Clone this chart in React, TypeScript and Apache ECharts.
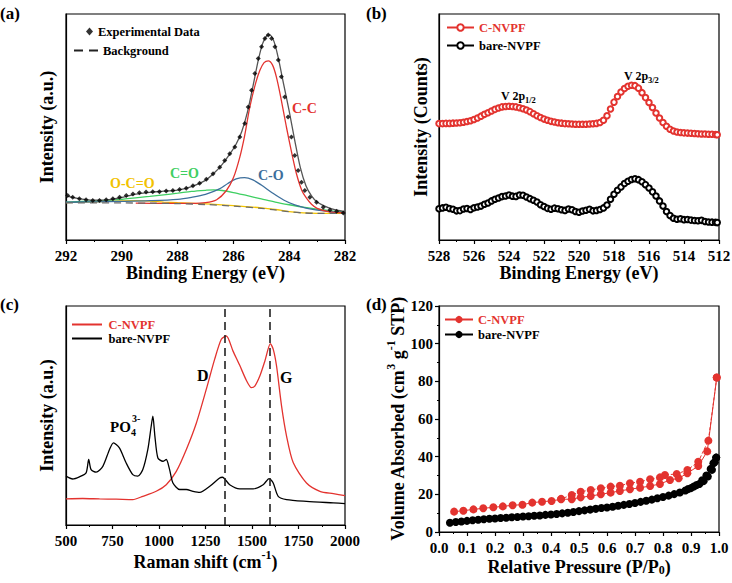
import React, { useEffect, useRef } from 'react';
import * as echarts from 'echarts';

const FONT = 'Liberation Serif, Times New Roman, serif';
const RED = '#e3332f';
const BLUE = '#3d6f9c';
const GREEN = '#3fcf62';
const YELLOW = '#f2c200';

// ---------- (a) XPS C 1s ----------
const expData: number[][] = [
  [291.94, 19.7], [291.76, 18.9], [291.52, 18.2], [291.28, 17.8], [291.04, 17.5], [290.8, 17.5], [290.56, 17.8],
  [290.32, 18.2], [290.08, 18.9], [289.84, 19.7], [289.6, 20.4], [289.37, 20.9], [289.13, 21.2], [288.89, 21.3],
  [288.65, 21.4], [288.41, 21.7], [288.17, 21.9], [287.93, 22.3], [287.69, 22.9], [287.45, 24.0], [287.21, 25.1],
  [286.97, 26.9], [286.73, 29.3], [286.49, 32.2], [286.31, 35.2], [286.13, 38.2], [285.95, 41.1], [285.77, 45.6],
  [285.59, 51.5], [285.47, 58.9], [285.35, 66.3], [285.23, 73.7], [285.11, 80.3], [284.99, 85.5], [284.87, 89.2],
  [284.75, 90.7], [284.63, 89.2], [284.51, 85.5], [284.39, 79.6], [284.28, 72.2], [284.16, 63.3], [284.04, 54.4],
  [283.92, 45.6], [283.8, 37.4], [283.68, 30.8], [283.56, 25.6], [283.44, 21.9], [283.26, 18.9], [283.02, 16.7],
  [282.78, 14.5], [282.54, 13.3], [282.3, 12.7], [282.06, 12.0],
];
const envelopeData: number[][] = [
  [292, 19.5], [291.5, 18.2], [291, 17.6], [290.5, 17.8], [290, 18.8], [289.5, 20.3], [289, 21.1], [288.5, 21.6],
  [288, 22.1], [287.5, 23.6], [287, 26.4], [286.7, 29.5], [286.4, 33.5], [286.1, 38.5], [285.9, 42.5], [285.7, 48],
  [285.5, 56.5], [285.3, 68], [285.1, 80], [284.95, 87], [284.8, 90.5], [284.7, 90.8], [284.55, 88], [284.4, 81],
  [284.2, 69], [284.0, 57], [283.8, 44], [283.6, 32], [283.4, 24], [283.2, 19.5], [283.0, 16.8], [282.6, 14.3],
  [282.3, 13.2], [282, 12.6],
];
const ccData: number[][] = [
  [289.5, 16.3], [288.5, 16.2], [287.5, 16.2], [287, 16.5], [286.6, 17.8], [286.25, 21.9], [286, 27.5], [285.77, 36.7],
  [285.6, 46], [285.41, 58.9], [285.2, 69.5], [285.05, 75.1], [284.9, 78.5], [284.75, 79.3], [284.6, 77.5],
  [284.46, 72.2], [284.3, 63], [284.1, 50], [283.9, 38], [283.74, 29.3], [283.55, 22], [283.38, 18.5], [283.2, 15.8],
  [283, 14], [282.6, 12.6], [282, 12.0],
];
const coData: number[][] = [
  [292, 16.7], [291, 16.9], [290, 17.1], [289, 17.4], [288, 18.0], [287.5, 18.9], [287, 20.2], [286.5, 22.6],
  [286.2, 25], [285.9, 27], [285.6, 27.6], [285.3, 26.6], [285, 24.3], [284.6, 20.8], [284.2, 17.7], [283.8, 15.5],
  [283.4, 14.1], [283, 13.2], [282.5, 12.5], [282, 12.1],
];
const cdoData: number[][] = [
  [292, 16.7], [291, 17.3], [290, 18.0], [289, 19.3], [288.5, 20.0], [288, 20.7], [287.5, 21.5], [287, 22.0],
  [286.7, 22.2], [286.4, 21.9], [286, 21.0], [285.5, 19.6], [285, 18.2], [284.5, 16.8], [284, 15.6], [283.5, 14.5],
  [283, 13.6], [282.5, 12.9], [282, 12.4],
];
const occoData: number[][] = [
  [292, 16.5], [291, 16.9], [290, 17.3], [289.5, 17.4], [289, 17.2], [288.5, 16.8], [288, 16.5], [287, 16.0],
  [286, 15.2], [285, 14.2], [284.5, 13.5], [284, 12.6], [283.5, 12.0], [283, 11.8], [282, 11.8],
];
const bgData: number[][] = [
  [292, 16.4], [290, 16.4], [289, 16.3], [288, 16.1], [287, 15.7], [286, 15.0], [285, 14.0], [284.5, 13.3],
  [284, 12.5], [283.5, 12.0], [283, 11.8], [282, 11.8],
];

// ---------- (b) XPS V 2p ----------
const vRedData: number[][] = [
  [528.0, 51.5], [527.8, 51.5], [527.6, 51.6], [527.4, 51.6], [527.2, 51.7], [527.0, 51.8], [526.8, 51.9],
  [526.6, 52.1], [526.4, 52.4], [526.2, 52.8], [526.0, 53.3], [525.8, 54.0], [525.6, 54.8], [525.4, 55.6],
  [525.2, 56.3], [525.0, 57.1], [524.8, 57.8], [524.6, 58.4], [524.4, 58.9], [524.2, 59.1], [524.0, 59.2],
  [523.8, 59.1], [523.6, 58.9], [523.4, 58.5], [523.2, 58.1], [523.0, 57.5], [522.8, 56.8], [522.6, 55.9],
  [522.4, 55.0], [522.2, 54.2], [522.0, 53.5], [521.8, 53.0], [521.6, 52.5], [521.4, 52.2], [521.2, 51.9],
  [521.0, 51.7], [520.8, 51.5], [520.6, 51.4], [520.4, 51.3], [520.2, 51.2], [520.0, 51.2], [519.8, 51.2],
  [519.6, 51.2], [519.4, 51.3], [519.2, 51.4], [519.0, 51.6], [518.8, 52.0], [518.6, 53.0], [518.4, 55.0],
  [518.2, 58.0], [518.0, 61.0], [517.8, 63.5], [517.6, 65.5], [517.4, 67.0], [517.2, 68.0], [517.0, 68.5],
  [516.8, 68.3], [516.6, 67.2], [516.4, 65.2], [516.2, 63.0], [516.0, 60.8], [515.8, 58.6], [515.6, 56.2],
  [515.4, 54.0], [515.2, 52.0], [515.0, 50.3], [514.8, 49.0], [514.6, 48.2], [514.4, 47.8], [514.2, 47.6],
  [514.0, 47.4], [513.8, 47.3], [513.6, 47.2], [513.4, 47.1], [513.2, 47.0], [513.0, 46.9], [512.8, 46.9],
  [512.6, 46.8], [512.4, 46.8], [512.2, 46.7], [512.1, 46.6],
];
const vBlackData: number[][] = [
  [528.0, 13.8], [527.8, 14.2], [527.6, 14.5], [527.4, 13.9], [527.2, 13.6], [527.0, 12.9], [526.8, 13.0],
  [526.6, 13.7], [526.4, 13.9], [526.2, 13.5], [526.0, 14.3], [525.8, 14.6], [525.6, 15.0], [525.4, 15.8],
  [525.2, 16.4], [525.0, 17.3], [524.8, 18.0], [524.6, 18.6], [524.4, 19.2], [524.2, 19.5], [524.0, 19.9],
  [523.8, 19.4], [523.6, 19.3], [523.4, 19.9], [523.2, 19.8], [523.0, 19.0], [522.8, 18.3], [522.6, 17.6],
  [522.4, 16.8], [522.2, 15.6], [522.0, 14.8], [521.8, 14.0], [521.6, 13.6], [521.4, 14.1], [521.2, 13.8],
  [521.0, 13.4], [520.8, 13.1], [520.6, 13.7], [520.4, 13.4], [520.2, 12.6], [520.0, 12.3], [519.8, 12.8],
  [519.6, 13.2], [519.4, 13.6], [519.2, 12.9], [519.0, 13.1], [518.8, 13.5], [518.6, 14.2], [518.4, 15.5],
  [518.2, 18.0], [518.0, 20.2], [517.8, 22.0], [517.6, 23.5], [517.4, 25.0], [517.2, 26.0], [517.0, 26.8],
  [516.8, 27.1], [516.6, 26.7], [516.4, 25.8], [516.2, 24.5], [516.0, 23.0], [515.8, 21.3], [515.6, 19.5],
  [515.4, 17.3], [515.2, 15.0], [515.0, 12.6], [514.8, 10.8], [514.6, 9.6], [514.4, 9.2], [514.2, 9.4],
  [514.0, 9.0], [513.8, 9.1], [513.6, 8.8], [513.4, 8.6], [513.2, 8.5], [513.0, 8.7], [512.8, 8.2],
  [512.6, 8.0], [512.4, 7.9], [512.2, 7.8], [512.1, 7.7],
];

// ---------- (c) Raman ----------
const ramanRed: number[][] = [
  [500, 11.9], [590, 12.1], [680, 11.9], [770, 11.8], [859, 11.6], [913, 13.1], [985, 15.4], [1039, 18.4],
  [1093, 24.5], [1147, 34.5], [1201, 46.6], [1254, 61.9], [1299, 75.6], [1335, 84.8], [1362, 86.3], [1398, 79.4],
  [1434, 72.9], [1470, 66.0], [1497, 62.7], [1515, 63.4], [1542, 68], [1569, 74.8], [1599, 82.8], [1615, 80],
  [1632, 72.6], [1659, 54.3], [1686, 40.5], [1722, 28.4], [1793, 19.2], [1865, 15.4], [1937, 14.3], [2000, 13.4],
];
const ramanBlack: number[][] = [
  [500, 22.3], [536, 21], [572, 22], [608, 23.8], [622, 29.9], [635, 25.3], [662, 24.1], [698, 26.8], [734, 34.5],
  [755, 37.5], [787, 35.2], [823, 28.4], [859, 23], [886, 22.3], [913, 25.3], [940, 34.5], [958, 45.1], [967, 49.7],
  [978, 40.5], [994, 30.6], [1021, 29.1], [1039, 29.9], [1057, 25.3], [1075, 19.2], [1111, 16.2], [1147, 16.2],
  [1183, 15.4], [1219, 14.9], [1273, 17.7], [1326, 21.5], [1341, 21.8], [1380, 18.4], [1434, 16.5], [1506, 16.5],
  [1560, 18.4], [1592, 21.2], [1614, 19.2], [1641, 13.1], [1686, 11.6], [1793, 10.8], [1937, 10.1], [2000, 9.8],
];
const ramanBands = [1355, 1597];

// ---------- (d) N2 isotherms ----------
const cAds: number[][] = [
  [0.054, 10.8], [0.087, 11.3], [0.123, 12.0], [0.158, 12.6], [0.194, 13.1], [0.228, 13.6], [0.263, 14.2],
  [0.298, 14.5], [0.333, 15.6], [0.368, 16.1], [0.402, 16.5], [0.436, 17.4], [0.474, 17.4], [0.506, 18.4],
  [0.542, 19.1], [0.578, 20.0], [0.613, 20.9], [0.646, 21.8], [0.682, 22.7], [0.718, 23.5], [0.754, 24.4],
  [0.789, 25.5], [0.825, 27.6], [0.856, 28.5], [0.887, 31.2], [0.926, 35.0], [0.958, 42.8], [0.992, 82],
];
const cDes: number[][] = [
  [0.992, 82], [0.962, 48.5], [0.926, 37.3], [0.887, 32.9], [0.849, 30.8], [0.807, 30.3], [0.789, 29.0],
  [0.754, 28.0], [0.718, 26.7], [0.682, 25.9], [0.646, 24.6], [0.613, 24.1], [0.578, 23.2], [0.542, 22.3],
  [0.506, 21.4], [0.474, 19.6], [0.436, 17.6],
];
const bAds: number[][] = [
  [0.039, 4.9], [0.06, 5.3], [0.08, 5.6], [0.1, 5.9], [0.12, 6.2], [0.14, 6.5], [0.16, 6.8], [0.18, 7.0],
  [0.2, 7.2], [0.22, 7.4], [0.24, 7.6], [0.26, 7.8], [0.28, 8.0], [0.3, 8.2], [0.32, 8.4], [0.34, 8.6],
  [0.36, 8.8], [0.38, 9.1], [0.4, 9.3], [0.42, 9.6], [0.44, 9.9], [0.46, 10.2], [0.48, 10.6], [0.5, 11.1],
  [0.52, 11.5], [0.54, 11.9], [0.56, 12.3], [0.58, 12.7], [0.6, 13.0], [0.62, 13.4], [0.64, 13.9], [0.66, 14.4],
  [0.68, 14.9], [0.7, 15.4], [0.72, 16.0], [0.74, 16.6], [0.76, 17.2], [0.78, 17.9], [0.8, 18.6], [0.82, 19.3],
  [0.84, 20.1], [0.86, 21.0], [0.88, 22.0], [0.9, 23.3], [0.92, 25.0], [0.94, 27.5], [0.955, 30.0],
  [0.97, 33.5], [0.98, 36.5], [0.99, 39.5],
];
const bDes: number[][] = [
  [0.99, 39.5], [0.985, 37], [0.975, 33], [0.96, 29.5], [0.945, 27], [0.93, 25.5], [0.91, 24.2], [0.89, 22.8],
];

const bold = (size: number, color = '#000') => ({ fontFamily: FONT, fontWeight: 'bold' as const, fontSize: size, color });

function xAxisCfg(gridIndex: number, min: number, max: number, interval: number, inverse: boolean, name: string, nameGap: number, rich?: any, fmt?: (v: number) => string) {
  return {
    type: 'value', gridIndex, min, max, interval, inverse,
    name, nameLocation: 'middle', nameGap,
    nameTextStyle: { ...bold(18), rich },
    axisLine: { show: true, onZero: false, lineStyle: { color: '#000', width: 1.2 } },
    axisTick: { show: true, length: 4, lineStyle: { color: '#000', width: 1.2 } },
    minorTick: { show: true, splitNumber: 2, length: 2, lineStyle: { color: '#000', width: 1 } },
    axisLabel: { ...bold(15), margin: 8, formatter: fmt || ((v: number) => String(v)) },
    splitLine: { show: false },
  };
}
function yAxisBlank(gridIndex: number, name: string, nameGap: number) {
  return {
    type: 'value', gridIndex, min: 0, max: 100,
    name, nameLocation: 'middle', nameGap,
    nameTextStyle: bold(18),
    axisLine: { show: true, lineStyle: { color: '#000', width: 1.2 } },
    axisTick: { show: false }, axisLabel: { show: false }, splitLine: { show: false },
  };
}

function legendCfg(name: string, left: number, top: number, w: number, h: number, color: string, icon?: string) {
  return {
    data: [icon ? { name, icon, textStyle: { color } } : { name, textStyle: { color } }],
    left, top, itemWidth: w, itemHeight: h, padding: 0,
    selectedMode: false, formatter: (n: string) => n.split('#')[0],
    textStyle: { ...bold(12.5, color) },
  };
}

const LINE_ICON = 'path://M0,0H30V2H0Z';
const DASH_ICON = 'path://M0,0H9V2H0Z M15,0H24V2H15Z';

function txt(text: string, x: number, y: number, size: number, color = '#000') {
  return {
    type: 'text', x, y,
    style: { text, fontFamily: FONT, fontWeight: 'bold', fontSize: size, fill: color, align: 'left', verticalAlign: 'middle', textAlign: 'left', textVerticalAlign: 'middle' },
  };
}

const App: React.FC = () => {
  const ref = useRef<HTMLDivElement>(null);
  useEffect(() => {
    document.body.style.margin = '0';
    if (!ref.current) return;
    const chart = echarts.init(ref.current, undefined, { renderer: 'svg' });
    const lineS = (name: string, data: number[][], color: string, idx: number, extra: any = {}) => ({
      type: 'line', name, data, xAxisIndex: idx, yAxisIndex: idx, showSymbol: false, symbol: 'none',
      lineStyle: { color, width: 1.3 }, itemStyle: { color }, smooth: 0.3, ...extra,
    });
    const supRich = {
      a: { ...bold(18), lineHeight: 22, verticalAlign: 'bottom' },
      s: { ...bold(12), lineHeight: 22, verticalAlign: 'top' },
      b: { ...bold(12), lineHeight: 22, verticalAlign: 'bottom', padding: [8, 0, 0, 0] },
    };
    const option: any = {
      animation: false,
      textStyle: { fontFamily: FONT },
      grid: [
        { left: 66, top: 14, width: 279, height: 226 },
        { left: 439, top: 14, width: 280, height: 226 },
        { left: 66, top: 306, width: 279, height: 219 },
        { left: 439, top: 306, width: 280, height: 226 },
      ].map((g) => ({ ...g, show: true, borderColor: '#000', borderWidth: 1.2, containLabel: false, outerBoundsMode: 'none' })),
      xAxis: [
        xAxisCfg(0, 282, 292, 2, true, 'Binding Energy (eV)', 22),
        xAxisCfg(1, 512, 528, 2, true, 'Binding Energy (eV)', 22),
        xAxisCfg(2, 500, 2000, 250, false, '{a|Raman shift (cm}{s|-1}{a|)}', 24, supRich),
        xAxisCfg(3, 0, 1, 0.1, false, '{a|Relative Pressure (P/P}{b|0}{a|)}', 22, supRich, (v: number) => v.toFixed(1)),
      ],
      yAxis: [
        yAxisBlank(0, 'Intensity (a.u.)', 10),
        yAxisBlank(1, 'Intensity (Counts)', 9),
        yAxisBlank(2, 'Intensity (a.u.)', 10),
        {
          type: 'value', gridIndex: 3, min: 0, max: 120, interval: 20,
          name: '{a|Volume Absorbed (cm}{s|3}{a| g}{s|-1}{a| STP)}', nameLocation: 'middle', nameGap: 27,
          nameTextStyle: { ...bold(18), rich: supRich },
          axisLine: { show: true, lineStyle: { color: '#000', width: 1.2 } },
          axisTick: { show: true, length: 4, lineStyle: { color: '#000', width: 1.2 } },
          minorTick: { show: true, splitNumber: 2, length: 2, lineStyle: { color: '#000' } },
          axisLabel: { ...bold(15), margin: 6 },
          splitLine: { show: false },
        },
      ],
      legend: [
        legendCfg('Experimental Data', 86, 25, 7, 8, '#000'),
        legendCfg('Background', 74, 44, 24, 2, '#000', DASH_ICON),
        legendCfg('C-NVPF#b', 446, 21, 27, 8, RED),
        legendCfg('bare-NVPF#b', 446, 39, 27, 8, '#000'),
        legendCfg('C-NVPF#c', 72, 318, 33, 2, RED, LINE_ICON),
        legendCfg('bare-NVPF#c', 72, 332, 33, 2, '#000', LINE_ICON),
        legendCfg('C-NVPF#d', 444, 313, 28, 9, RED),
        legendCfg('bare-NVPF#d', 444, 328, 28, 9, '#000'),
      ],
      series: [
        lineS('O-C=O', occoData, YELLOW, 0),
        lineS('C=O', cdoData, GREEN, 0),
        lineS('C-O', coData, BLUE, 0),
        lineS('C-C', ccData, RED, 0),
        lineS('Background', bgData, '#222', 0, { lineStyle: { color: '#6b6b6b', width: 1.3, type: [7, 5] } }),
        lineS('Envelope', envelopeData, '#555', 0),
        {
          type: 'scatter', name: 'Experimental Data', data: expData, xAxisIndex: 0, yAxisIndex: 0,
          symbol: 'diamond', symbolSize: 5, itemStyle: { color: '#000' }, z: 5,
        },
        {
          type: 'line', name: 'C-NVPF#b', data: vRedData, xAxisIndex: 1, yAxisIndex: 1,
          symbol: 'emptyCircle', symbolSize: 5.5, showSymbol: true,
          lineStyle: { color: RED, width: 1.2 }, itemStyle: { color: RED, borderColor: RED, borderWidth: 1.5 },
        },
        {
          type: 'line', name: 'bare-NVPF#b', data: vBlackData, xAxisIndex: 1, yAxisIndex: 1,
          symbol: 'emptyCircle', symbolSize: 5.5, showSymbol: true,
          lineStyle: { color: '#000', width: 1.2 }, itemStyle: { color: '#000', borderColor: '#000', borderWidth: 1.5 },
        },
        lineS('C-NVPF#c', ramanRed, RED, 2, { smooth: 0.25 }),
        lineS('bare-NVPF#c', ramanBlack, '#000', 2, {
          smooth: 0.25,
          markLine: {
            silent: true, symbol: ['none', 'none'], label: { show: false },
            lineStyle: { color: '#222', width: 1.6, type: [8, 5] },
            data: ramanBands.map((v) => ({ xAxis: v })),
          },
        }),
        {
          type: 'line', name: 'C-NVPF#d', data: cAds, xAxisIndex: 3, yAxisIndex: 3,
          symbol: 'circle', symbolSize: 8, showSymbol: true,
          lineStyle: { color: RED, width: 1 }, itemStyle: { color: RED },
        },
        {
          type: 'line', name: 'C-NVPF#d-des', data: cDes, xAxisIndex: 3, yAxisIndex: 3,
          symbol: 'circle', symbolSize: 8, showSymbol: true,
          lineStyle: { color: RED, width: 1, type: [3, 2] }, itemStyle: { color: RED },
        },
        {
          type: 'line', name: 'bare-NVPF#d', data: bAds, xAxisIndex: 3, yAxisIndex: 3,
          symbol: 'circle', symbolSize: 8, showSymbol: true,
          lineStyle: { color: '#000', width: 1 }, itemStyle: { color: '#000' },
        },
        {
          type: 'line', name: 'bare-NVPF#d-des', data: bDes, xAxisIndex: 3, yAxisIndex: 3,
          symbol: 'circle', symbolSize: 8, showSymbol: true,
          lineStyle: { color: '#000', width: 1 }, itemStyle: { color: '#000' },
        },
      ],
      graphic: [
        txt('(a)', 0, 13, 17),
        txt('(b)', 366, 13, 17),
        txt('(c)', 0, 304, 17),
        txt('(d)', 366, 304, 17),
        txt('C-C', 292, 108, 14, RED),
        txt('C-O', 258, 175, 14, BLUE),
        txt('C=O', 170, 173, 14, GREEN),
        txt('O-C=O', 110, 183, 14, YELLOW),
        txt('V 2p', 501, 96, 12),
        txt('1/2', 525, 100, 8.5),
        txt('V 2p', 624, 76, 12),
        txt('3/2', 648, 80, 8.5),
        txt('D', 197, 375, 16),
        txt('G', 280, 377, 16),
        txt('PO', 110, 427, 15),
        txt('4', 131, 432, 10),
        txt('3-', 132, 418, 10),
      ],
    };
    chart.setOption(option);
    return () => chart.dispose();
  }, []);
  return <div ref={ref} style={{ width: 732, height: 583 }} />;
};

export default App;
